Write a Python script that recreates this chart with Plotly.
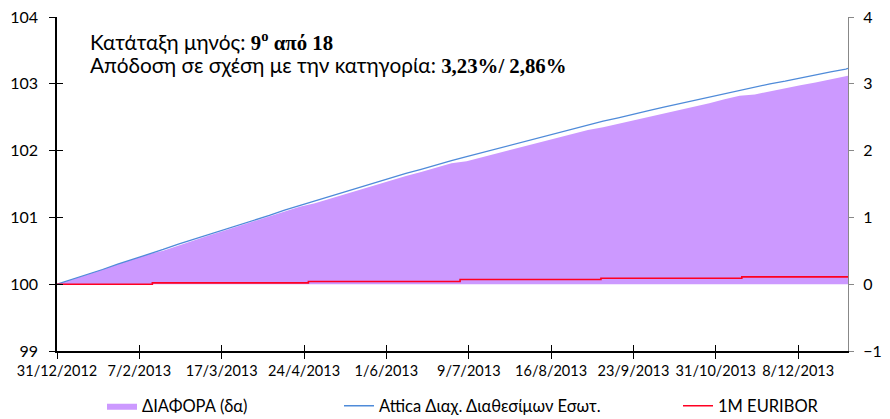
import numpy as np
import pandas as pd
import plotly.graph_objects as go

# ---- data ----
start_date = "2012-12-31"
fund_change = [0.00, 0.07, 0.15, 0.22, 0.30, 0.37, 0.45, 0.52, 0.60, 0.67,
               0.75, 0.82, 0.89, 0.96, 1.03, 1.11, 1.18, 1.25, 1.32, 1.39,
               1.46, 1.52, 1.59, 1.66, 1.72, 1.79, 1.85, 1.91, 1.97, 2.03,
               2.09, 2.15, 2.21, 2.27, 2.32, 2.38, 2.44, 2.49, 2.55, 2.60,
               2.65, 2.70, 2.75, 2.80, 2.86, 2.91, 2.95, 3.00, 3.04, 3.09,
               3.13, 3.18, 3.22, 3.23]
fund_dates = list(pd.date_range(start_date, periods=53, freq="7D")) + [pd.Timestamp("2013-12-31")]
fund_values = [100 + v for v in fund_change]

euribor_dates = ["2012-12-31", "2013-02-13", "2013-04-26", "2013-07-05",
                 "2013-09-08", "2013-11-12", "2013-12-31"]
euribor_values = [100.00, 100.02, 100.04, 100.07, 100.09, 100.11, 100.11]

tick_dates = ["2012-12-31", "2013-02-07", "2013-03-17", "2013-04-24", "2013-06-01",
              "2013-07-09", "2013-08-16", "2013-09-23", "2013-10-31", "2013-12-08"]
tick_labels = ["31/12/2012", "7/2/2013", "17/3/2013", "24/4/2013", "1/6/2013",
               "9/7/2013", "16/8/2013", "23/9/2013", "31/10/2013", "8/12/2013"]

names = ["ΔΙΑΦΟΡΑ (δα)", "Attica Διαχ. Διαθεσίμων Εσωτ.", "1M EURIBOR"]

# difference (fund minus euribor), plotted on the right axis
eur_idx = np.searchsorted(pd.to_datetime(euribor_dates).values,
                          pd.to_datetime(fund_dates).values, side="right") - 1
diff = [f - euribor_values[i] for f, i in zip(fund_values, eur_idx)]

FONT = "Lato, 'Open Sans', sans-serif"

PL, PR, PT, PB = 57, 848, 17, 351
W, H = 890, 419
PW, PH = PR - PL, PB - PT


def px_x(px):
    return (px - PL) / PW


def px_y(py):
    return (PB - py) / PH


fig = go.Figure()
fig.add_trace(go.Scatter(x=fund_dates, y=diff, name=names[0], mode="lines",
                         fill="tozeroy", fillcolor="#CC99FF",
                         line=dict(width=0, color="#CC99FF"),
                         xaxis="x", yaxis="y", legend="legend"))
fig.add_trace(go.Scatter(x=fund_dates, y=fund_values, name=names[1], mode="lines",
                         line=dict(width=1.3, color="#4F8BD9"),
                         xaxis="x", yaxis="y2", legend="legend2"))
fig.add_trace(go.Scatter(x=euribor_dates, y=euribor_values, name=names[2], mode="lines",
                         line=dict(width=1.6, color="#FF0022", shape="hv"),
                         xaxis="x", yaxis="y2", legend="legend3"))
# helper (empty) trace so the inner tick-mark axes are drawn
fig.add_trace(go.Scatter(x=[None], y=[None], xaxis="x2", yaxis="y3",
                         showlegend=False, hoverinfo="skip"))

line1 = ("Κατάταξη μηνός: <span style='font-family:Liberation Serif'>"
         "<b>9<sup>ο</sup> από 18</b></span>")
line2 = ("Απόδοση σε σχέση με την κατηγορία: "
         "<span style='font-family:Liberation Serif'><b>3,23%/ 2,86%</b></span>")
for txt, yc in ((line1, 41), (line2, 64)):
    fig.add_annotation(text=txt, xref="paper", yref="paper", x=px_x(88), y=px_y(yc),
                       xanchor="left", yanchor="middle", align="left", showarrow=False,
                       font=dict(family=FONT, size=20.8, color="black"))

leg_common = dict(orientation="h", yanchor="middle", xanchor="left",
                  font=dict(family=FONT, size=16.5, color="black"),
                  bgcolor="rgba(0,0,0,0)", y=px_y(406))

tickdate = dict(type="date", range=["2012-12-31", "2013-12-31"],
                tickvals=tick_dates, showgrid=False, zeroline=False)

fig.update_layout(
    width=W, height=H,
    margin=dict(l=PL, r=W - PR, t=PT, b=H - PB, autoexpand=False),
    paper_bgcolor="white", plot_bgcolor="white",
    font=dict(family=FONT, size=14, color="black"),
    showlegend=True,
    legend=dict(**leg_common, x=px_x(102)),
    legend2=dict(**leg_common, x=px_x(339)),
    legend3=dict(**leg_common, x=px_x(678)),
    xaxis=dict(**tickdate, ticktext=tick_labels,
               showline=True, linecolor="black",
               linewidth=1.5, ticks="outside", ticklen=6, tickcolor="black",
               tickfont=dict(family=FONT, size=14.5), anchor="y"),
    xaxis2=dict(**tickdate, overlaying="x", anchor="y3", showticklabels=False,
                showline=False, ticks="inside", ticklen=6, tickcolor="black"),
    yaxis=dict(range=[-1, 4], dtick=1, side="right", showgrid=False, zeroline=False,
               showline=True, linecolor="#888888", linewidth=1, ticks="outside",
               ticklen=5, tickcolor="#888888", ticklabelstandoff=6,
               tickfont=dict(family=FONT, size=16)),
    yaxis2=dict(range=[99, 104], dtick=1, side="left", overlaying="y", showgrid=False,
                zeroline=False, showline=True, linecolor="black", linewidth=1.5,
                ticks="outside", ticklen=6, tickcolor="black", ticklabelstandoff=8,
                tickfont=dict(family=FONT, size=16)),
    yaxis3=dict(range=[99, 104], dtick=1, side="left", overlaying="y", showgrid=False,
                zeroline=False, showline=False, showticklabels=False,
                ticks="inside", ticklen=6, tickcolor="black"),
)

fig.write_html("out.html", config={"displayModeBar": False},
               post_script="document.body.style.margin='0';")
